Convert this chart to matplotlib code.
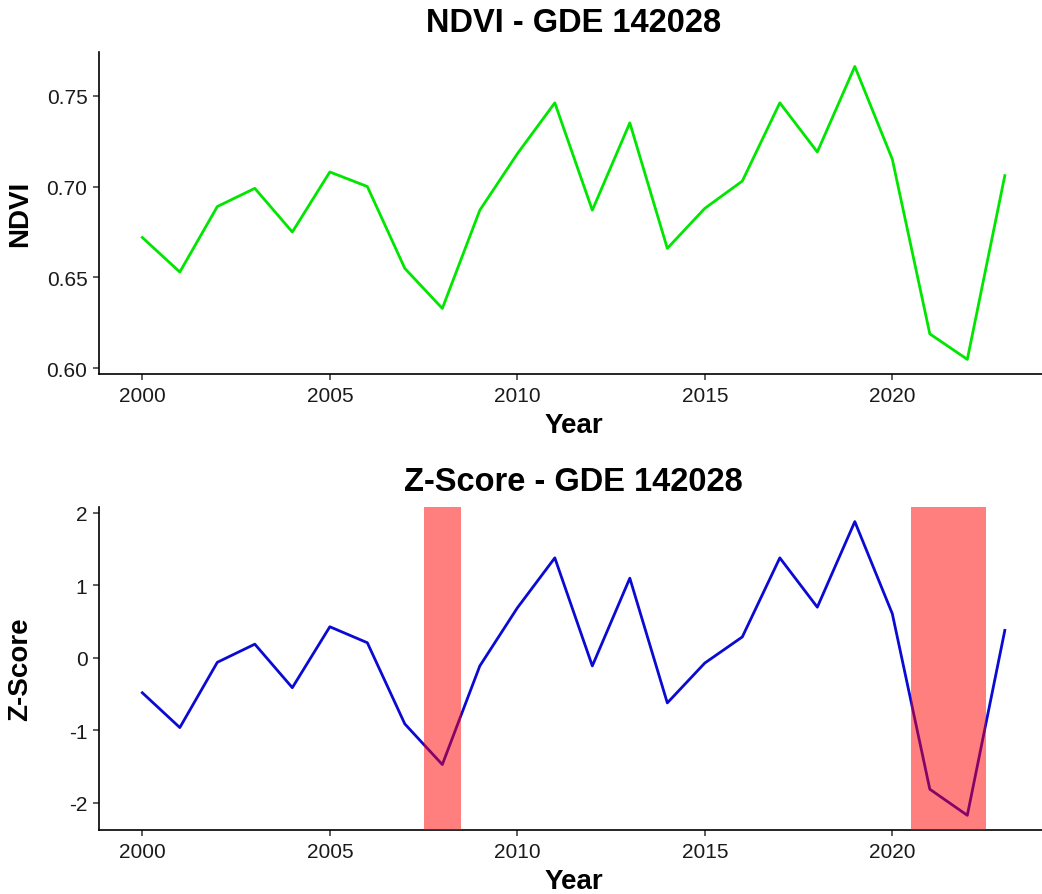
import numpy as np
import matplotlib
matplotlib.use("Agg")
import matplotlib.pyplot as plt
from matplotlib.ticker import FormatStrFormatter

plt.rcParams['font.family'] = ['Liberation Sans', 'DejaVu Sans']
plt.rcParams['axes.unicode_minus'] = False

years = list(range(2000, 2024))
ndvi = [0.672, 0.653, 0.689, 0.699, 0.675, 0.708, 0.700, 0.655, 0.633, 0.687,
        0.718, 0.746, 0.687, 0.735, 0.666, 0.688, 0.703, 0.746, 0.719, 0.766,
        0.715, 0.619, 0.605, 0.706]
zscore = [-0.48, -0.96, -0.06, 0.19, -0.41, 0.43, 0.21, -0.91, -1.47, -0.11,
          0.69, 1.38, -0.11, 1.10, -0.62, -0.07, 0.29, 1.38, 0.70, 1.88,
          0.61, -1.81, -2.17, 0.38]
# drought years highlighted as (start, end)
drought_spans = [(2007.5, 2008.5), (2020.5, 2022.5)]
site = "GDE 142028"


def style_axes(ax):
    ax.spines['top'].set_visible(False)
    ax.spines['right'].set_visible(False)
    for s in ('left', 'bottom'):
        ax.spines[s].set_linewidth(1.2)
        ax.spines[s].set_color('black')
    ax.tick_params(axis='both', length=4.5, width=1.1, color='#333333',
                   labelsize=15, labelcolor='#1a1a1a', pad=4)
    ax.set_xticks([2000, 2005, 2010, 2015, 2020])
    x0, x1 = min(years), max(years)
    pad = (x1 - x0) * 0.05
    ax.set_xlim(x0 - pad, x1 + pad)
    # same y-label column for both panels
    ax.yaxis.set_label_coords(-0.0695, 0.5)


fig = plt.figure(figsize=(10.42, 8.95), dpi=100)
# panels run a little past the right edge
ax1 = fig.add_axes([0.0952, 0.581, 0.9105, 0.360])
ax2 = fig.add_axes([0.0952, 0.0715, 0.9105, 0.361])

# NDVI panel
ax1.plot(years, ndvi, color='#00e600', lw=2.0)
style_axes(ax1)
lo, hi = min(ndvi), max(ndvi)
ax1.set_ylim(lo - (hi - lo) * 0.05, hi + (hi - lo) * 0.05)
ax1.set_yticks([0.60, 0.65, 0.70, 0.75])
ax1.yaxis.set_major_formatter(FormatStrFormatter('%.2f'))
ax1.set_title(f"NDVI - {site}", fontsize=23.5, fontweight='bold', pad=15)
ax1.set_xlabel("Year", fontsize=20, fontweight='bold', labelpad=5)
ax1.set_ylabel("NDVI", fontsize=20, fontweight='bold')

# Z-score panel with drought years shaded
ax2.plot(years, zscore, color='#0a0ad2', lw=2.0, zorder=2)
for a, b in drought_spans:
    ax2.axvspan(a, b, color='red', alpha=0.5, lw=0, zorder=3)
style_axes(ax2)
lo, hi = min(zscore), max(zscore)
ax2.set_ylim(lo - (hi - lo) * 0.05, hi + (hi - lo) * 0.05)
ax2.set_yticks([-2, -1, 0, 1, 2])
ax2.set_title(f"Z-Score - {site}", fontsize=23.5, fontweight='bold', pad=12)
ax2.set_xlabel("Year", fontsize=20, fontweight='bold', labelpad=5)
ax2.set_ylabel("Z-Score", fontsize=20, fontweight='bold')

fig.savefig("out.png", dpi=100)
